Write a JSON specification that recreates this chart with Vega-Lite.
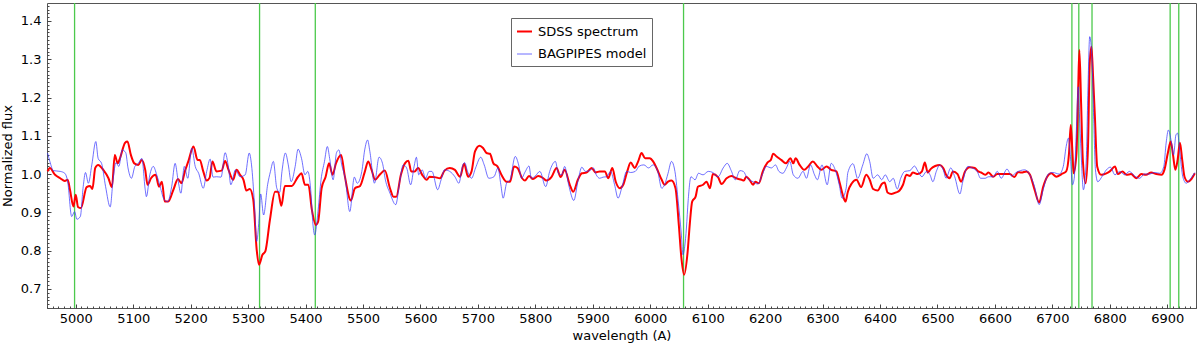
{
  "$schema": "https://vega.github.io/schema/vega-lite/v6.json",
  "width": 1149,
  "height": 305,
  "autosize": {"type": "none"},
  "padding": {"left": 47, "top": 3, "right": 4, "bottom": 43},
  "background": "white",
  "config": {
    "font": "DejaVu Sans",
    "view": {"stroke": "#555555", "strokeWidth": 1},
    "axis": {"domain": false, "grid": false, "ticks": true, "labelColor": "#000000", "titleColor": "#000000", "labelFontSize": 13, "titleFontSize": 13, "titleFontWeight": "normal", "tickColor": "#444444", "tickWidth": 1},
    "legend": {"orient": "none", "legendX": 464, "legendY": 15, "strokeColor": "#666666", "fillColor": "white", "padding": 5, "labelFontSize": 13, "labelColor": "#000000", "symbolType": "stroke", "symbolSize": 225, "labelOffset": 5, "rowPadding": 7, "title": null}
  },
  "datasets": {
    "lines": [{"w": 4998}, {"w": 5320}, {"w": 5417}, {"w": 6058}, {"w": 6734}, {"w": 6746}, {"w": 6769}, {"w": 6905}, {"w": 6920}],
    "sdss": [
      [4951,1.007],[4955,1.016],[4964,0.998],[4973,0.989],[4981,0.982],[4986,0.985],[4990,0.959],[4996,0.915],[5000,0.946],[5004,0.914],[5009,0.911],[5019,0.966],[5025,0.969],[5029,0.961],[5034,1.016],[5039,1.024],[5048,1.011],[5057,0.989],[5063,0.966],[5068,1.05],[5073,1.028],[5077,1.041],[5086,1.082],[5090,1.085],[5096,1.05],[5102,1.028],[5109,1.024],[5115,1.037],[5121,1.011],[5125,0.972],[5131,0.989],[5139,0.998],[5145,0.967],[5150,0.98],[5155,0.928],[5161,0.928],[5170,0.959],[5178,0.987],[5184,0.976],[5190,1.007],[5196,1.033],[5205,1.072],[5212,1.037],[5216,1.037],[5222,1.007],[5228,0.983],[5233,0.99],[5238,1.033],[5245,1.007],[5254,1.009],[5260,1.034],[5266,1.011],[5274,0.985],[5280,1.011],[5286,0.998],[5292,0.985],[5297,0.957],[5303,0.961],[5309,0.933],[5315,0.802],[5319,0.763],[5325,0.789],[5330,0.798],[5338,0.88],[5347,0.954],[5352,0.954],[5358,0.917],[5364,0.969],[5376,0.969],[5387,0.993],[5393,1.002],[5399,0.972],[5405,0.972],[5411,0.907],[5418,0.867],[5422,0.876],[5428,0.963],[5435,0.993],[5441,1.028],[5447,0.998],[5453,1.028],[5462,1.05],[5468,0.998],[5479,0.931],[5486,0.963],[5495,0.969],[5503,1.005],[5509,1.033],[5515,1.011],[5521,0.985],[5529,0.998],[5538,1.009],[5547,0.963],[5553,0.941],[5558,0.941],[5566,0.998],[5573,1.028],[5579,1.035],[5584,1.007],[5590,1.007],[5596,1.016],[5603,0.998],[5611,0.985],[5616,0.993],[5625,0.992],[5634,0.989],[5642,1.009],[5651,1.016],[5660,1.011],[5669,0.993],[5676,1.027],[5683,0.993],[5689,1.007],[5695,1.059],[5703,1.074],[5709,1.068],[5715,1.055],[5721,1.053],[5727,1.028],[5734,1.02],[5741,0.998],[5750,0.98],[5756,0.98],[5763,1.02],[5769,1.016],[5777,0.989],[5782,0.983],[5789,0.995],[5796,0.987],[5805,0.995],[5814,0.989],[5819,0.983],[5828,0.992],[5837,1.016],[5844,0.992],[5851,1.011],[5860,0.972],[5866,0.954],[5874,0.985],[5881,1.002],[5889,1.004],[5898,1.016],[5905,1.004],[5912,1.007],[5921,1.007],[5927,0.989],[5934,1.016],[5940,0.98],[5947,0.963],[5953,0.972],[5960,1.007],[5966,1.03],[5973,1.016],[5979,1.033],[5985,1.055],[5991,1.041],[5999,1.041],[6005,1.033],[6011,1.016],[6020,0.985],[6025,0.972],[6031,0.98],[6037,0.983],[6044,0.963],[6050,0.863],[6054,0.785],[6059,0.737],[6065,0.795],[6069,0.872],[6073,0.928],[6079,0.941],[6083,0.967],[6092,0.972],[6098,0.98],[6104,0.963],[6109,1.0],[6118,0.992],[6124,0.974],[6133,0.989],[6141,0.995],[6150,0.989],[6159,0.985],[6163,0.983],[6167,0.993],[6173,0.985],[6179,0.972],[6183,0.98],[6189,0.976],[6196,1.007],[6204,1.03],[6210,1.037],[6214,1.053],[6220,1.046],[6228,1.037],[6236,1.028],[6244,1.041],[6249,1.028],[6253,1.041],[6260,1.024],[6268,1.011],[6275,1.02],[6283,1.033],[6291,1.02],[6298,1.011],[6307,1.02],[6315,1.011],[6324,1.007],[6330,0.976],[6336,0.941],[6340,0.928],[6344,0.954],[6351,0.976],[6359,0.985],[6367,0.966],[6376,0.998],[6382,0.985],[6388,0.961],[6396,0.957],[6403,0.974],[6408,0.978],[6413,0.952],[6420,0.948],[6428,0.952],[6434,0.957],[6440,0.972],[6446,0.998],[6452,0.995],[6457,1.004],[6466,1.0],[6473,1.007],[6478,1.03],[6483,1.004],[6488,1.013],[6496,1.021],[6504,1.024],[6510,1.016],[6515,0.998],[6521,0.989],[6527,1.007],[6535,1.0],[6541,0.98],[6548,1.007],[6556,1.018],[6565,1.016],[6571,1.007],[6576,1.004],[6583,0.998],[6589,1.004],[6597,0.993],[6604,1.0],[6611,1.0],[6620,1.0],[6626,1.0],[6634,0.992],[6640,1.005],[6646,1.004],[6655,1.007],[6661,0.998],[6669,0.959],[6677,0.926],[6684,0.967],[6691,0.993],[6698,1.002],[6707,0.993],[6716,1.0],[6724,1.007],[6729,1.055],[6732,1.128],[6735,1.055],[6737,1.002],[6742,1.055],[6745,1.228],[6747,1.324],[6750,1.185],[6753,1.037],[6758,0.976],[6762,1.072],[6765,1.29],[6768,1.333],[6771,1.25],[6774,1.15],[6778,1.02],[6785,0.998],[6794,1.002],[6800,1.007],[6809,1.02],[6814,1.0],[6822,1.007],[6829,0.998],[6837,1.0],[6846,0.989],[6855,1.0],[6863,0.998],[6872,1.004],[6881,1.0],[6890,0.998],[6895,1.011],[6901,1.055],[6906,1.085],[6910,1.05],[6914,1.011],[6918,1.037],[6922,1.082],[6926,1.037],[6930,0.993],[6936,0.98],[6942,0.987],[6948,1.002]
    ],
    "model": [
      [4951,1.055],[4955,1.033],[4961,1.009],[4973,1.007],[4981,1.002],[4986,0.98],[4993,0.889],[4998,0.902],[5002,0.882],[5008,0.889],[5013,0.967],[5017,1.004],[5022,0.976],[5028,1.024],[5035,1.085],[5039,1.041],[5045,1.028],[5052,0.967],[5060,0.914],[5065,0.985],[5070,1.03],[5075,1.02],[5081,1.063],[5087,1.056],[5091,1.016],[5097,0.989],[5103,1.02],[5109,1.028],[5115,1.041],[5121,0.959],[5123,0.941],[5129,0.998],[5135,1.02],[5141,0.998],[5147,0.967],[5154,0.933],[5160,0.928],[5167,0.967],[5173,1.028],[5178,0.985],[5183,0.95],[5189,1.02],[5195,0.989],[5202,1.068],[5208,1.02],[5214,1.002],[5222,0.963],[5228,1.007],[5234,1.039],[5239,0.992],[5245,0.993],[5253,0.992],[5260,1.056],[5266,1.016],[5270,0.972],[5278,1.011],[5286,0.993],[5295,0.998],[5302,1.055],[5306,1.024],[5311,0.924],[5315,0.824],[5319,0.88],[5322,0.948],[5327,0.893],[5334,0.972],[5339,1.007],[5344,1.033],[5350,0.963],[5355,0.952],[5359,1.007],[5365,1.055],[5370,1.024],[5375,0.98],[5382,1.02],[5387,1.065],[5393,1.041],[5399,0.998],[5404,1.007],[5409,0.959],[5413,0.867],[5416,0.841],[5422,0.907],[5427,0.985],[5433,1.033],[5438,1.072],[5442,1.041],[5448,0.985],[5454,1.056],[5458,1.063],[5463,1.024],[5469,0.989],[5477,0.902],[5485,0.992],[5490,0.976],[5498,1.007],[5503,1.063],[5508,1.089],[5512,1.059],[5520,0.976],[5528,1.044],[5534,1.028],[5539,0.985],[5547,0.95],[5557,0.92],[5564,0.98],[5570,1.024],[5576,1.016],[5583,0.972],[5589,1.02],[5593,1.044],[5597,0.998],[5603,1.011],[5609,0.989],[5615,1.007],[5620,1.007],[5630,0.959],[5636,0.985],[5642,1.011],[5651,1.007],[5660,0.993],[5667,0.976],[5673,1.02],[5677,1.03],[5682,1.007],[5689,0.989],[5696,1.016],[5705,1.044],[5711,1.024],[5719,0.989],[5728,0.993],[5735,1.016],[5740,0.972],[5744,0.937],[5750,0.976],[5756,0.985],[5765,1.046],[5771,1.024],[5776,0.989],[5782,1.005],[5789,1.021],[5793,0.989],[5800,0.995],[5808,1.007],[5818,0.967],[5825,1.007],[5835,1.033],[5840,1.002],[5846,0.998],[5851,1.02],[5858,0.972],[5867,0.931],[5874,0.98],[5881,1.018],[5887,1.007],[5895,1.009],[5901,1.016],[5906,0.998],[5912,0.989],[5918,0.992],[5924,0.993],[5931,1.007],[5938,0.972],[5944,0.937],[5951,0.967],[5959,1.007],[5966,1.004],[5974,1.007],[5981,1.021],[5989,1.024],[5997,1.016],[6005,1.024],[6013,1.007],[6020,0.963],[6025,0.972],[6031,1.002],[6037,1.033],[6043,1.007],[6049,0.924],[6054,0.846],[6057,0.789],[6060,0.81],[6063,0.859],[6066,0.93],[6071,0.993],[6078,0.985],[6084,1.002],[6092,0.998],[6101,1.007],[6109,1.004],[6118,0.993],[6127,1.016],[6134,1.028],[6141,1.009],[6148,0.985],[6156,1.009],[6162,1.007],[6169,0.989],[6179,0.98],[6187,0.974],[6195,0.998],[6202,1.02],[6211,1.016],[6218,1.024],[6224,1.007],[6231,1.002],[6237,1.016],[6243,1.033],[6249,0.998],[6257,0.989],[6266,1.007],[6272,0.989],[6279,1.024],[6286,0.998],[6291,0.985],[6299,1.024],[6308,0.972],[6315,1.028],[6322,1.011],[6329,0.972],[6334,0.937],[6341,0.963],[6344,1.004],[6353,1.027],[6361,0.989],[6370,1.024],[6377,1.053],[6382,1.033],[6388,0.989],[6396,0.998],[6403,0.985],[6409,0.998],[6417,0.98],[6423,0.989],[6430,0.961],[6436,0.989],[6443,1.007],[6452,1.009],[6460,1.021],[6466,1.007],[6473,0.993],[6481,1.007],[6487,0.998],[6492,0.98],[6498,1.007],[6504,1.024],[6510,1.011],[6515,0.989],[6523,1.016],[6530,0.993],[6539,0.948],[6544,0.98],[6553,1.02],[6560,1.016],[6569,1.007],[6575,0.989],[6583,0.989],[6589,0.993],[6597,0.993],[6604,1.007],[6611,0.989],[6621,1.013],[6629,0.995],[6637,1.004],[6652,1.011],[6660,1.0],[6669,0.967],[6677,0.92],[6684,0.959],[6693,1.0],[6701,1.004],[6712,1.0],[6719,1.02],[6724,1.072],[6728,1.094],[6731,1.055],[6735,0.972],[6738,0.989],[6742,1.124],[6745,1.228],[6747,1.159],[6750,1.055],[6754,0.959],[6759,1.037],[6762,1.228],[6765,1.359],[6769,1.298],[6772,1.142],[6775,1.011],[6779,0.98],[6787,0.995],[6794,1.011],[6801,1.018],[6809,0.998],[6817,1.007],[6826,0.998],[6834,1.007],[6843,0.995],[6852,0.989],[6860,1.0],[6869,1.0],[6878,1.004],[6887,1.002],[6894,1.02],[6898,1.081],[6902,1.115],[6907,1.085],[6911,1.05],[6915,1.102],[6918,1.107],[6922,1.055],[6927,0.993],[6933,0.976],[6939,0.985],[6948,1.004]
    ]
  },
  "layer": [
    {
      "data": {"name": "lines"},
      "mark": {"type": "rule", "color": "#4cc94c", "strokeWidth": 1.3},
      "encoding": {
        "x": {"field": "w", "type": "quantitative", "scale": {"domain": [4950, 6950], "nice": false, "zero": false}, "axis": null}
      }
    },
    {
      "data": {"name": "sdss"},
      "transform": [
        {"calculate": "datum[0]", "as": "w"},
        {"calculate": "datum[1]", "as": "f"},
        {"calculate": "'SDSS spectrum'", "as": "s"}
      ],
      "mark": {"type": "line", "interpolate": "monotone"},
      "encoding": {
        "x": {"field": "w", "type": "quantitative", "scale": {"domain": [4950, 6950], "nice": false, "zero": false},
              "axis": {"title": "wavelength (A)", "format": "d", "values": [5000,5100,5200,5300,5400,5500,5600,5700,5800,5900,6000,6100,6200,6300,6400,6500,6600,6700,6800,6900], "offset": -4, "tickSize": 4, "labelPadding": 4, "titlePadding": 4, "labelFlush": false, "labelOverlap": false}},
        "y": {"field": "f", "type": "quantitative", "scale": {"domain": [0.65, 1.447], "nice": false, "zero": false},
              "axis": {"title": "Normalized flux", "values": [0.7,0.8,0.9,1.0,1.1,1.2,1.3,1.4], "format": ".1f", "offset": -4, "tickSize": 4, "labelPadding": 6, "titlePadding": 6, "labelFlush": false, "labelOverlap": false}},
        "color": {"field": "s", "type": "nominal", "scale": {"domain": ["SDSS spectrum", "BAGPIPES model"], "range": ["#ff0000", "#3333ff"]}},
        "strokeWidth": {"field": "s", "type": "nominal", "scale": {"domain": ["SDSS spectrum", "BAGPIPES model"], "range": [2, 1]}},
        "opacity": {"field": "s", "type": "nominal", "scale": {"domain": ["SDSS spectrum", "BAGPIPES model"], "range": [1, 0.7]}}
      }
    },
    {
      "data": {"name": "model"},
      "transform": [
        {"calculate": "datum[0]", "as": "w"},
        {"calculate": "datum[1]", "as": "f"},
        {"calculate": "'BAGPIPES model'", "as": "s"}
      ],
      "mark": {"type": "line", "interpolate": "monotone"},
      "encoding": {
        "x": {"field": "w", "type": "quantitative", "axis": {"title": null, "labels": false, "tickCount": 200, "offset": -2, "tickSize": 2, "orient": "bottom"}},
        "y": {"field": "f", "type": "quantitative", "axis": {"title": null, "labels": false, "tickCount": 80, "offset": -2, "tickSize": 2, "orient": "left"}},
        "color": {"field": "s", "type": "nominal"},
        "strokeWidth": {"field": "s", "type": "nominal"},
        "opacity": {"field": "s", "type": "nominal"}
      }
    }
  ],
  "resolve": {"axis": {"x": "independent", "y": "independent"}}
}
